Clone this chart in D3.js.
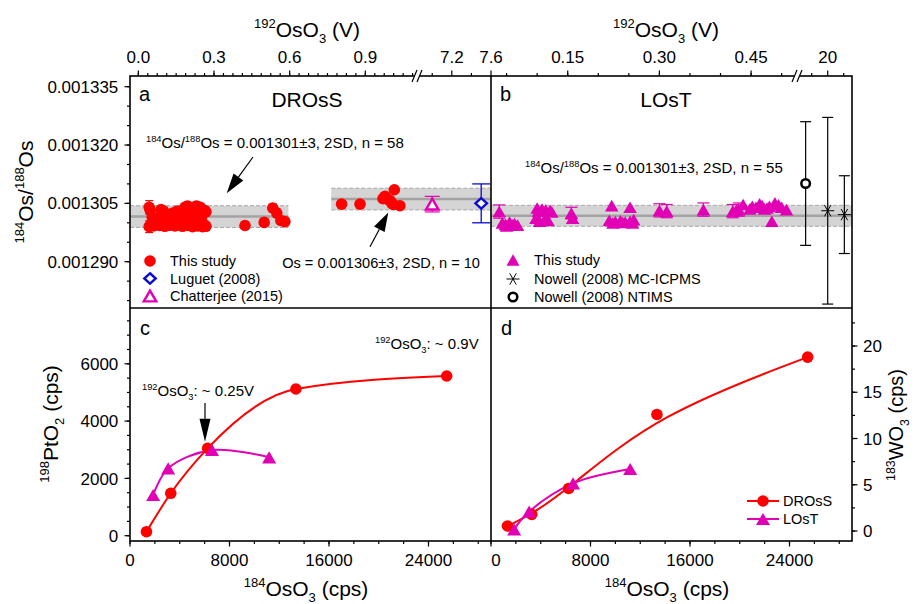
<!DOCTYPE html>
<html><head><meta charset="utf-8">
<script src="https://cdn.jsdelivr.net/npm/d3@7"></script>
<style>
body{margin:0;background:#fff}
svg{display:block}
text{font-family:"Liberation Sans",Arial,sans-serif;fill:#000}
</style>
</head><body>
<svg id="chart" width="915" height="604"></svg>
<script>
// ================= DATA =================
// Panel a: DROsS, this study (192OsO3 in V vs 184Os/188Os)
const drossV = [0.043,0.047,0.090,0.100,0.140,0.155,0.170,0.185,0.195,0.205,0.215,0.230,0.245,0.262,0.268,
  0.055,0.110,0.150,0.200,0.250,0.120,0.180,0.230,0.075,0.160,
  0.043,0.050,0.060,0.072,0.085,0.095,0.105,0.115,0.125,0.135,0.145,0.155,0.165,0.175,0.185,0.195,0.205,0.215,0.225,0.235,0.245,0.255,0.262,0.268,
  0.423,0.499,0.533,0.549,0.565,0.581];
const drossR = [0.0013040,0.0013032,0.0013034,0.0013030,0.0013026,0.0013030,0.0013028,0.0013040,0.0013043,0.0013037,0.0013035,0.0013043,0.0013040,0.0013032,0.0013028,
  0.0013014,0.0013018,0.0013012,0.0013016,0.0013010,0.0013020,0.0013008,0.0013022,0.0013012,0.0013018,
  0.0012990,0.0012996,0.0012992,0.0012997,0.0012993,0.0012996,0.0012991,0.0012997,0.0012994,0.0012996,0.0012992,0.0012997,0.0012995,0.0012991,0.0012996,0.0012993,0.0012997,0.0012990,0.0012995,0.0012992,0.0012996,0.0012990,0.0012994,0.0012991,
  0.0012993,0.0013001,0.0013038,0.0013025,0.0013006,0.0013003];
const drossE = drossV.map((v,i)=> i===0 ? 0.0000017 : (i===25 ? 0.0000015 : 0.0000010));
// Panel a: DROsS, high-signal runs (n = 10)
const drossHiV = [0.806,0.879,0.970,0.978,0.990,0.998,1.005,1.011,1.015,1.037];
const drossHiR = [0.0013048,0.0013048,0.0013062,0.0013068,0.0013060,0.0013057,0.0013050,0.0013047,0.0013085,0.0013044];
// Literature, panel a
const luguetV = [7.50], luguetR = [0.0013050], luguetE = [0.0000050];
const chatV = [7.00], chatR = [0.0013048], chatE = [0.0000020];
// Panel b: LOsT, this study
const lostV = [0.038,0.043,0.048,0.055,0.063,0.068,0.050,0.060,
  0.100,0.108,0.121,0.098,0.104,0.112,0.118,0.102,0.114,0.124,
  0.156,0.158,
  0.222,0.252,0.218,0.228,0.236,0.244,0.252,0.258,0.224,0.240,0.256,
  0.300,0.312,0.372,
  0.420,0.430,0.437,0.448,0.458,0.464,0.472,0.480,0.489,0.495,0.500,0.508,0.484,0.426,0.452,0.468,0.476];
const lostR = [0.0013029,0.0013000,0.0012996,0.0013002,0.0012998,0.0012994,0.0012992,0.0012995,
  0.0013038,0.0013035,0.0013032,0.0013012,0.0013004,0.0013008,0.0013006,0.0013030,0.0013033,0.0013028,
  0.0013025,0.0013012,
  0.0013044,0.0013040,0.0013006,0.0013003,0.0013005,0.0013002,0.0013004,0.0013008,0.0013000,0.0013001,0.0013000,
  0.0013032,0.0013030,0.0013034,
  0.0013030,0.0013034,0.0013047,0.0013036,0.0013040,0.0013049,0.0013036,0.0013042,0.0013051,0.0013046,0.0013040,0.0013034,0.0013004,0.0013033,0.0013042,0.0013044,0.0013038];
const lostE = [0.0000017,0,0,0,0,0,0,0, 0,0,0,0,0,0,0,0,0,0, 0.0000015,0, 0,0,0,0,0,0,0,0,0,0,0,
  0.0000017,0.0000017,0.0000017, 0.0000017,0.0000017,0,0,0,0,0,0,0,0,0,0,0,0,0,0,0];
// Literature, panel b
const mcV = [20.00, 20.52], mcR = [0.0013031, 0.0013021], mcE = [0.0000240, 0.0000100];
const ntV = [19.31], ntR = [0.0013101], ntE = [0.0000159];
// Mean bands (mean, half-width 2SD): a-low, a-high, b
const bandMean = [0.0013016, 0.0013061, 0.0013018];
const bandHalf = [0.0000028, 0.0000028, 0.0000027];
const bandFrom = [-0.033, 0.765, 0.0245];
const bandTo = [0.595, 7.6, 20.759];
// Panels c, d: 184OsO3 (cps) vs 198PtO2 (cps) / 183WO3 (cps)
const drossOs = [1323, 3276, 6240, 13341, 25462];
const drossPt = [140, 1480, 3050, 5120, 5575];
const drossW  = [0.54, 1.8, 4.6, 12.6, 18.8];
const lostOs = [1860, 3068, 6595, 11188];
const lostPt = [1420, 2350, 2990, 2735];
const lostW  = [0.18, 2.1, 5.15, 6.7];
// Ticks
const topTicksA = [0.0, 0.3, 0.6, 0.9, 7.2, 7.6];
const topLabelsA = ['0.0','0.3','0.6','0.9','7.2','7.6'];
const topTicksB = [0.15, 0.30, 0.45, 20];
const topLabelsB = ['0.15','0.30','0.45','20'];
const yTicksAB = [0.001290, 0.001305, 0.001320, 0.001335];
const yLabelsAB = ['0.001290','0.001305','0.001320','0.001335'];
const xTicksCD = [0, 8000, 16000, 24000];
const yTicksC = [0, 2000, 4000, 6000];
const yTicksD = [0, 5, 10, 15, 20];

// ================= LAYOUT =================
const L=130, M=491, R=852, T=76, MID=308, B=541;
const RED='#ff0000', MAG='#e100b4', BLUE='#0a0ad2';
const svg = d3.select('#chart');

const xA = d3.scaleLinear().domain([-0.033, 1.093, 6.875, 7.6]).range([L, 414, 420, M]);
const xB = d3.scaleLinear().domain([0.0245, 0.5202, 19.134, 20.759]).range([M, 794, 800, R]);
const yAB = d3.scaleLinear().domain([0.00127809, 0.00133775]).range([MID, T]);
const xC = d3.scaleLinear().domain([0, 29025]).range([L, M]);
const xD = d3.scaleLinear().domain([0, 29025]).range([M, R]);
const yC = d3.scaleLinear().domain([-185, 7948]).range([B, MID]);
const yD = d3.scaleLinear().domain([-1.08, 24.11]).range([B, MID]);

function tri(s){const h=s*Math.sqrt(3)/2;return `M0,${-h/2}L${s/2},${h/2}L${-s/2},${h/2}Z`;}
function diamond(w,h){return `M0,${-h/2}L${w/2},0L0,${h/2}L${-w/2},0Z`;}
function asterisk(r){const a=r*0.5,b=r*0.866;return `M${-r},0L${r},0M${-a},${-b}L${a},${b}M${a},${-b}L${-a},${b}`;}

function rich(x,y,parts,size,anchor,rot){
  const t = svg.append('text').attr('font-size',size).attr('text-anchor',anchor||'start')
    .attr('transform',`translate(${x},${y}) rotate(${rot||0})`);
  let shift=0;
  parts.forEach(([s,k])=>{
    const tg = k==='sup' ? -0.42*size : (k==='sub' ? 0.28*size : 0);
    t.append('tspan').attr('dy',tg-shift).attr('font-size',k==='n'?size:size*0.62).text(s);
    shift=tg;
  });
  return t;
}

function ticks(scale, majors, labels, minors, orient, pos, opts){
  opts = opts||{};
  const g = svg.append('g').attr('stroke','#000').attr('stroke-width',1.2);
  const horiz = orient==='top'||orient==='bottom';
  const dir = (orient==='top'||orient==='left') ? -1 : 1;
  const dr = scale.range(); const lo=Math.min(dr[0],dr[dr.length-1]), hi=Math.max(dr[0],dr[dr.length-1]);
  const draw=(v,len)=>{const p=scale(v); if(p<lo-0.5||p>hi+0.5) return;
    if(horiz) g.append('line').attr('x1',p).attr('x2',p).attr('y1',pos).attr('y2',pos+dir*len);
    else g.append('line').attr('y1',p).attr('y2',p).attr('x1',pos).attr('x2',pos+dir*len);};
  minors.forEach(v=>draw(v,3));
  majors.forEach(v=>draw(v,5.5));
  if(labels){
    majors.forEach((v,i)=>{
      const p=scale(v);
      const t=svg.append('text').attr('font-size',17);
      if(orient==='top') t.attr('x',p).attr('y',pos-13).attr('text-anchor','middle');
      if(orient==='bottom') t.attr('x',p+((opts.shiftFirst&&i===0)?5:0)).attr('y',pos+25).attr('text-anchor','middle');
      if(orient==='left') t.attr('x',pos-11.7).attr('y',p).attr('dy','0.36em').attr('text-anchor','end');
      if(orient==='right') t.attr('x',pos+11).attr('y',p).attr('dy','0.36em').attr('text-anchor','start');
      t.text(labels[i]);
    });
  }
}

// ---------- bands ----------
bandMean.forEach((m,i)=>{
  const xs = i<2 ? xA : xB;
  const x0=Math.max(xs(bandFrom[i]),i<2?L:M), x1=Math.min(xs(bandTo[i]), i<2?M:R);
  const yt=yAB(m+bandHalf[i]), yb=yAB(m-bandHalf[i]);
  svg.append('rect').attr('x',x0).attr('y',yt).attr('width',x1-x0).attr('height',yb-yt).attr('fill','#d4d4d4');
  [yt,yb].forEach(y=>svg.append('line').attr('x1',x0).attr('x2',x1).attr('y1',y).attr('y2',y)
    .attr('stroke','#a8a8a8').attr('stroke-width',1).attr('stroke-dasharray','4,2'));
  svg.append('line').attr('x1',x0).attr('x2',x1).attr('y1',yAB(m)).attr('y2',yAB(m))
    .attr('stroke','#a3a3a3').attr('stroke-width',2.5);
});

function errBars(xs, ys, X, Y, E, color, cap, sw){
  const g=svg.append('g').attr('stroke',color).attr('stroke-width',sw||1.2);
  X.forEach((v,i)=>{
    if(!E[i]) return;
    const px=xs(v), t=ys(Y[i]+E[i]), b=ys(Y[i]-E[i]);
    g.append('line').attr('x1',px).attr('x2',px).attr('y1',t).attr('y2',b);
    g.append('line').attr('x1',px-cap/2).attr('x2',px+cap/2).attr('y1',t).attr('y2',t);
    g.append('line').attr('x1',px-cap/2).attr('x2',px+cap/2).attr('y1',b).attr('y2',b);
  });
}

// ---------- panel a ----------
errBars(xA,yAB,drossV,drossR,drossE,RED,8,1.2);
svg.append('g').selectAll('circle').data(drossV).join('circle')
  .attr('cx',(d)=>xA(d)).attr('cy',(d,i)=>yAB(drossR[i])).attr('r',5.8).attr('fill',RED);
svg.append('g').selectAll('circle').data(drossHiV).join('circle')
  .attr('cx',(d)=>xA(d)).attr('cy',(d,i)=>yAB(drossHiR[i])).attr('r',5.8).attr('fill',RED);
errBars(xA,yAB,chatV,chatR,chatE,MAG,15,1.2);
chatV.forEach((v,i)=>svg.append('path').attr('d',tri(12.5)).attr('transform',`translate(${xA(v)},${yAB(chatR[i])})`)
  .attr('fill','#fff').attr('stroke',MAG).attr('stroke-width',2.4));
errBars(xA,yAB,luguetV,luguetR,luguetE,BLUE,18,1.3);
luguetV.forEach((v,i)=>svg.append('path').attr('d',diamond(11.5,10.5)).attr('transform',`translate(${xA(v)},${yAB(luguetR[i])})`)
  .attr('fill','#fff').attr('stroke',BLUE).attr('stroke-width',2.4));

// ---------- panel b ----------
errBars(xB,yAB,lostV,lostR,lostE,MAG,12,1.2);
lostV.forEach((v,i)=>svg.append('path').attr('d',tri(13.5)).attr('transform',`translate(${xB(v)},${yAB(lostR[i])})`).attr('fill',MAG));
errBars(xB,yAB,ntV,ntR,ntE,'#000',11,1.2);
ntV.forEach((v,i)=>svg.append('circle').attr('cx',xB(v)).attr('cy',yAB(ntR[i])).attr('r',4.3)
  .attr('fill','#fff').attr('stroke','#000').attr('stroke-width',2.5));
errBars(xB,yAB,mcV,mcR,mcE,'#000',11,1.2);
mcV.forEach((v,i)=>svg.append('path').attr('d',asterisk(6.5)).attr('transform',`translate(${xB(v)},${yAB(mcR[i])})`)
  .attr('stroke','#000').attr('stroke-width',1).attr('fill','none'));

// ---------- panel c ----------
svg.append('path').datum(drossOs).attr('fill','none').attr('stroke',RED).attr('stroke-width',2)
  .attr('d',d3.line().x(d=>xC(d)).y((d,i)=>yC(drossPt[i])).curve(d3.curveMonotoneX));
svg.append('path').datum(lostOs).attr('fill','none').attr('stroke',MAG).attr('stroke-width',2)
  .attr('d',d3.line().x(d=>xC(d)).y((d,i)=>yC(lostPt[i])).curve(d3.curveCatmullRom.alpha(0.5)));
svg.append('g').selectAll('circle').data(drossOs).join('circle')
  .attr('cx',d=>xC(d)).attr('cy',(d,i)=>yC(drossPt[i])).attr('r',5.8).attr('fill',RED);
lostOs.forEach((v,i)=>svg.append('path').attr('d',tri(14)).attr('transform',`translate(${xC(v)},${yC(lostPt[i])})`).attr('fill',MAG));

// ---------- panel d ----------
svg.append('path').datum(drossOs).attr('fill','none').attr('stroke',RED).attr('stroke-width',2)
  .attr('d',d3.line().x(d=>xD(d)).y((d,i)=>yD(drossW[i])).curve(d3.curveBasis));
svg.append('path').datum(lostOs).attr('fill','none').attr('stroke',MAG).attr('stroke-width',2)
  .attr('d',d3.line().x(d=>xD(d)).y((d,i)=>yD(lostW[i])).curve(d3.curveCatmullRom.alpha(0.5)));
svg.append('g').selectAll('circle').data(drossOs).join('circle')
  .attr('cx',d=>xD(d)).attr('cy',(d,i)=>yD(drossW[i])).attr('r',5.8).attr('fill',RED);
lostOs.forEach((v,i)=>svg.append('path').attr('d',tri(14)).attr('transform',`translate(${xD(v)},${yD(lostW[i])})`).attr('fill',MAG));

// ---------- frame ----------
const fr=svg.append('g').attr('stroke','#000').attr('stroke-width',1.6).attr('fill','none');
fr.append('rect').attr('x',L).attr('y',T).attr('width',R-L).attr('height',B-T);
fr.append('line').attr('x1',L).attr('x2',R).attr('y1',MID).attr('y2',MID);
fr.append('line').attr('x1',M).attr('x2',M).attr('y1',T).attr('y2',B);

// ---------- axes ----------
ticks(xA, topTicksA, topLabelsA, d3.range(0,1.09,0.0375).concat([7.0,7.4]), 'top', T);
ticks(xB, topTicksB, topLabelsB, d3.range(0.05,0.52,0.05).concat([19.5,20.5]), 'top', T);
ticks(yAB, yTicksAB, yLabelsAB, d3.range(0.00128,0.001337,0.000005), 'left', L);
ticks(xC, xTicksCD, xTicksCD.map(String), d3.range(0,29001,2000), 'bottom', B);
ticks(xD, xTicksCD, xTicksCD.map(String), d3.range(0,29001,2000), 'bottom', B, {shiftFirst:true});
ticks(yC, yTicksC, yTicksC.map(String), d3.range(0,7901,500), 'left', L);
ticks(yD, yTicksD, yTicksD.map(String), d3.range(0,24.1,2.5), 'right', R);

// axis breaks
[[xA(1.093)+3],[xB(0.5202)+3]].forEach(([bx])=>{
  svg.append('rect').attr('x',bx-3).attr('y',T-2).attr('width',6).attr('height',4).attr('fill','#fff');
  [-2.5,2.5].forEach(o=>svg.append('line').attr('x1',bx+o-2.5).attr('y1',T+6).attr('x2',bx+o+2.5).attr('y2',T-6)
    .attr('stroke','#000').attr('stroke-width',1.2));
});

// ---------- titles ----------
rich(307,37,[['192','sup'],['OsO','n'],['3','sub'],[' (V)','n']],21,'middle');
rich(666,37,[['192','sup'],['OsO','n'],['3','sub'],[' (V)','n']],21,'middle');
rich(33,192,[['184','sup'],['Os/','n'],['188','sup'],['Os','n']],21,'middle',-90);
rich(58,424,[['198','sup'],['PtO','n'],['2','sub'],[' (cps)','n']],21,'middle',-90);
rich(903,425,[['183','sup'],['WO','n'],['3','sub'],[' (cps)','n']],20,'middle',-90);
rich(306,596,[['184','sup'],['OsO','n'],['3','sub'],[' (cps)','n']],21,'middle');
rich(667,596,[['184','sup'],['OsO','n'],['3','sub'],[' (cps)','n']],21,'middle');

// panel labels
[['a',139,101],['b',500,101],['c',140,335],['d',501,335]].forEach(([s,x,y])=>
  svg.append('text').attr('x',x).attr('y',y).attr('font-size',20).text(s));
svg.append('text').attr('x',307).attr('y',107).attr('font-size',21).attr('text-anchor','middle').text('DROsS');
svg.append('text').attr('x',666).attr('y',107).attr('font-size',21).attr('text-anchor','middle').text('LOsT');

// annotations
rich(146,148,[['184','sup'],['Os/','n'],['188','sup'],['Os = 0.001301±3, 2SD, n = 58','n']],15,'start');
svg.append('text').attr('x',480).attr('y',268).attr('font-size',14.6).attr('text-anchor','end').text('Os = 0.001306±3, 2SD, n = 10');
rich(525,173,[['184','sup'],['Os/','n'],['188','sup'],['Os = 0.001301±3, 2SD, n = 55','n']],15,'start');
rich(375,349,[['192','sup'],['OsO','n'],['3','sub'],[': ~ 0.9V','n']],15,'start');
rich(142,396,[['192','sup'],['OsO','n'],['3','sub'],[': ~ 0.25V','n']],15,'start');

function arrow(x1,y1,x2,y2,hl,hw){
  const a=Math.atan2(y2-y1,x2-x1), c=Math.cos(a), s=Math.sin(a);
  const bx=x2-hl*c, by=y2-hl*s;
  svg.append('line').attr('x1',x1).attr('y1',y1).attr('x2',bx).attr('y2',by).attr('stroke','#000').attr('stroke-width',1.2);
  svg.append('path').attr('d',`M${x2},${y2}L${bx-hw/2*s},${by+hw/2*c}L${bx+hw/2*s},${by-hw/2*c}Z`).attr('fill','#000');
}
arrow(253,157,226.7,193.3,20,12);
arrow(370,246.7,388.3,212.5,19,12);
arrow(205,403,205,441.7,23,11);

// ---------- legends ----------
const legA=[['circle','This study',261],['diamond','Luguet (2008)',278.5],['tri','Chatterjee (2015)',296]];
legA.forEach(([k,s,y])=>{
  if(k==='circle') svg.append('circle').attr('cx',150).attr('cy',y).attr('r',5.8).attr('fill',RED);
  if(k==='diamond') svg.append('path').attr('d',diamond(11.5,10.5)).attr('transform',`translate(150,${y})`).attr('fill','#fff').attr('stroke',BLUE).attr('stroke-width',2.4);
  if(k==='tri') svg.append('path').attr('d',tri(12.5)).attr('transform',`translate(150,${y})`).attr('fill','#fff').attr('stroke',MAG).attr('stroke-width',2.4);
  svg.append('text').attr('x',170).attr('y',y+5.3).attr('font-size',14.5).text(s);
});
const legB=[['tri','This study',260],['ast','Nowell (2008) MC-ICPMS',279],['open','Nowell (2008) NTIMS',297]];
legB.forEach(([k,s,y])=>{
  if(k==='tri') svg.append('path').attr('d',tri(13)).attr('transform',`translate(513,${y})`).attr('fill',MAG);
  if(k==='ast') svg.append('path').attr('d',asterisk(6.5)).attr('transform',`translate(513,${y})`).attr('stroke','#000').attr('stroke-width',1).attr('fill','none');
  if(k==='open') svg.append('circle').attr('cx',513).attr('cy',y).attr('r',4.3).attr('fill','#fff').attr('stroke','#000').attr('stroke-width',2.5);
  svg.append('text').attr('x',534).attr('y',y+5.3).attr('font-size',14.5).text(s);
});
const legD=[[RED,'circle','DROsS',501],[MAG,'tri','LOsT',519]];
legD.forEach(([c,k,s,y])=>{
  svg.append('line').attr('x1',747).attr('x2',779).attr('y1',y).attr('y2',y).attr('stroke',c).attr('stroke-width',2);
  if(k==='circle') svg.append('circle').attr('cx',763).attr('cy',y).attr('r',5.8).attr('fill',c);
  else svg.append('path').attr('d',tri(14)).attr('transform',`translate(763,${y})`).attr('fill',c);
  svg.append('text').attr('x',783).attr('y',y+5.3).attr('font-size',14.5).text(s);
});
</script>
</body></html>
